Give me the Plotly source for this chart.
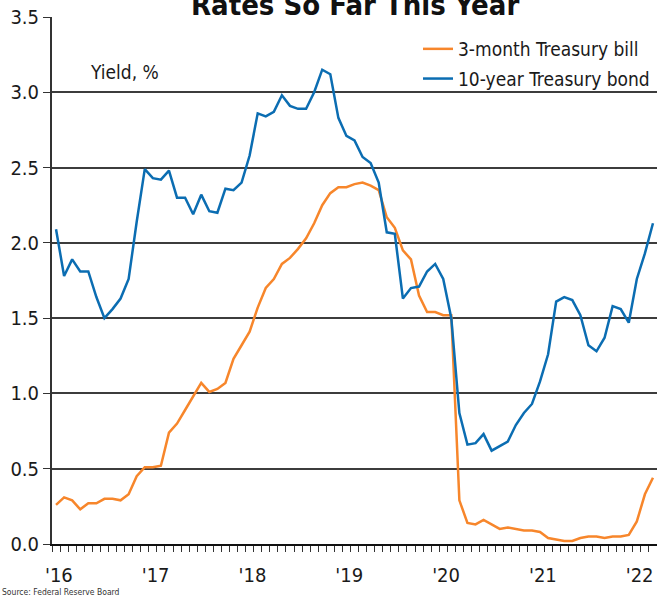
import plotly.graph_objects as go

# ---- data (monthly averages, Jan 2016 - Mar 2022) ----
years = ["2016", "2017", "2018", "2019", "2020", "2021", "2022"]
month_names = ["Jan", "Feb", "Mar", "Apr", "May", "Jun",
               "Jul", "Aug", "Sep", "Oct", "Nov", "Dec"]
months = [f"{m} {y}" for y in years for m in month_names][:75]

bill_3m = [
    0.26, 0.31, 0.29, 0.23, 0.27, 0.27, 0.30, 0.30, 0.29, 0.33, 0.45, 0.51,
    0.51, 0.52, 0.74, 0.80, 0.89, 0.98, 1.07, 1.01, 1.03, 1.07, 1.23, 1.32,
    1.41, 1.57, 1.70, 1.76, 1.86, 1.90, 1.96, 2.03, 2.13, 2.25, 2.33, 2.37,
    2.37, 2.39, 2.40, 2.38, 2.35, 2.17, 2.10, 1.95, 1.89, 1.65, 1.54, 1.54,
    1.52, 1.52, 0.29, 0.14, 0.13, 0.16, 0.13, 0.10, 0.11, 0.10, 0.09, 0.09,
    0.08, 0.04, 0.03, 0.02, 0.02, 0.04, 0.05, 0.05, 0.04, 0.05, 0.05, 0.06,
    0.15, 0.33, 0.44,
]
bond_10y = [
    2.09, 1.78, 1.89, 1.81, 1.81, 1.64, 1.50, 1.56, 1.63, 1.76, 2.14, 2.49,
    2.43, 2.42, 2.48, 2.30, 2.30, 2.19, 2.32, 2.21, 2.20, 2.36, 2.35, 2.40,
    2.58, 2.86, 2.84, 2.87, 2.98, 2.91, 2.89, 2.89, 3.00, 3.15, 3.12, 2.83,
    2.71, 2.68, 2.57, 2.53, 2.40, 2.07, 2.06, 1.63, 1.70, 1.71, 1.81, 1.86,
    1.76, 1.50, 0.87, 0.66, 0.67, 0.73, 0.62, 0.65, 0.68, 0.79, 0.87, 0.93,
    1.08, 1.26, 1.61, 1.64, 1.62, 1.52, 1.32, 1.28, 1.37, 1.58, 1.56, 1.47,
    1.76, 1.93, 2.13,
]
year_labels = ["'16", "'17", "'18", "'19", "'20", "'21", "'22"]
series_names = ["3-month Treasury bill", "10-year Treasury bond"]
colors = ["#F7862B", "#0B6DB2"]
title_text = "Rates So Far This Year"
unit_text = "Yield, %"
source_text = "Source: Federal Reserve Board"

FONT = "DejaVu Sans Condensed, Liberation Sans Narrow, DejaVu Sans, sans-serif"

x_idx = list(range(len(months)))
n = len(months)

fig = go.Figure()
for name, vals, col, grp in zip(series_names, [bill_3m, bond_10y], colors, ["a", "b"]):
    fig.add_trace(go.Scatter(
        x=x_idx, y=vals, mode="lines", name=name,
        line=dict(color=col, width=2.5),
        customdata=months, hovertemplate="%{customdata}: %{y:.2f}%<extra>" + name + "</extra>",
        legendgroup=grp,
    ))

year_pos = [12 * i + 0.35 for i in range(len(year_labels))]
month_bounds = [i - 0.5 for i in range(n + 1)]

fig.update_layout(
    width=657, height=596,
    margin=dict(l=52, r=0, t=17, b=52),
    paper_bgcolor="white", plot_bgcolor="white",
    font=dict(family=FONT, size=19, color="#1a1a1a"),
    showlegend=True,
    legend=dict(
        x=(418 - 52) / 605, xanchor="left",
        y=(544 - 30) / 527, yanchor="top",
        bgcolor="rgba(0,0,0,0)", borderwidth=0,
        font=dict(size=19, family=FONT, color="#1a1a1a"),
        tracegroupgap=2,
    ),
    xaxis=dict(
        range=[-0.5, n - 0.5],
        tickmode="array", tickvals=year_pos, ticktext=year_labels,
        ticks="", showgrid=False, zeroline=False,
        showline=True, linecolor="#111111", linewidth=2,
        ticklabelstandoff=12,
        tickfont=dict(size=20, family=FONT, color="#1a1a1a"),
        minor=dict(tickmode="array", tickvals=month_bounds, ticks="outside",
                   ticklen=6, tickwidth=1, tickcolor="#333333", showgrid=False),
    ),
    yaxis=dict(
        range=[0, 3.5], tickmode="linear", tick0=0, dtick=0.5, tickformat=".1f",
        showgrid=True, gridcolor="#3c3c3c", gridwidth=1.5,
        zeroline=False,
        showline=True, linecolor="#333333", linewidth=2,
        ticks="outside", ticklen=7, tickwidth=1, tickcolor="#333333",
        tickfont=dict(size=20, family=FONT, color="#1a1a1a"),
    ),
    annotations=[
        dict(text="<b>" + title_text + "</b>", xref="paper", yref="paper",
             x=0.5, y=1, xanchor="center", yanchor="bottom", yshift=-7,
             showarrow=False, font=dict(size=29, family=FONT, color="#111111")),
        dict(text=unit_text, xref="paper", yref="paper",
             x=(88 - 52) / 605, y=(544 - 72) / 527, xanchor="left", yanchor="middle",
             showarrow=False, font=dict(size=19, family=FONT, color="#1a1a1a")),
        dict(text=source_text, xref="paper", yref="paper",
             x=-52 / 605, y=-48 / 527, xanchor="left", yanchor="middle",
             showarrow=False, font=dict(size=8.5, family=FONT, color="#333333")),
    ],
)

fig.write_html("out.html")
